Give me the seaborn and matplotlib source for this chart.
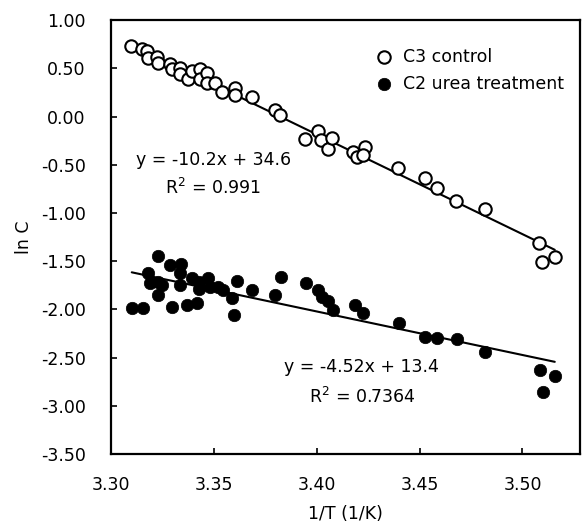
import numpy as np
import pandas as pd
import matplotlib
matplotlib.use('Agg')
import matplotlib.pyplot as plt
import seaborn as sns

# C3 control (open circles)
c3_x = [3.3097, 3.3151, 3.3175, 3.3180, 3.3224, 3.3228, 3.3287, 3.3296, 3.3335, 3.3335,
        3.3374, 3.3394, 3.3432, 3.3432, 3.3466, 3.3466, 3.3505, 3.3539, 3.3603, 3.3603,
        3.3685, 3.3797, 3.3821, 3.3943, 3.4006, 3.4020, 3.4054, 3.4074, 3.4176, 3.4195,
        3.4234, 3.4224, 3.4395, 3.4526, 3.4584, 3.4676, 3.4817, 3.5080, 3.5094, 3.5157]
c3_y = [0.728, 0.696, 0.676, 0.603, 0.613, 0.561, 0.541, 0.489, 0.509, 0.437,
        0.385, 0.468, 0.489, 0.385, 0.457, 0.353, 0.353, 0.260, 0.301, 0.229,
        0.208, 0.073, 0.021, -0.229, -0.146, -0.239, -0.333, -0.218, -0.364, -0.416,
        -0.312, -0.395, -0.530, -0.634, -0.738, -0.873, -0.956, -1.310, -1.507, -1.455]

# C2 urea treatment (filled circles)
c2_x = [3.3102, 3.3155, 3.3180, 3.3228, 3.3190, 3.3228, 3.3248, 3.3228, 3.3287, 3.3340,
        3.3335, 3.3335, 3.3296, 3.3394, 3.3428, 3.3428, 3.3369, 3.3418, 3.3471, 3.3481,
        3.3520, 3.3544, 3.3612, 3.3588, 3.3598, 3.3685, 3.3797, 3.3826, 3.3948, 3.4006,
        3.4025, 3.4054, 3.4079, 3.4186, 3.4224, 3.4399, 3.4526, 3.4584, 3.4681, 3.4817,
        3.5085, 3.5157, 3.5099]
c2_y = [-1.985, -1.985, -1.622, -1.445, -1.726, -1.715, -1.746, -1.850, -1.538, -1.528,
        -1.622, -1.746, -1.975, -1.674, -1.715, -1.788, -1.954, -1.933, -1.674, -1.767,
        -1.767, -1.798, -1.705, -1.882, -2.058, -1.798, -1.850, -1.663, -1.726, -1.798,
        -1.871, -1.913, -2.006, -1.954, -2.037, -2.141, -2.287, -2.297, -2.308, -2.443,
        -2.630, -2.692, -2.859]

xticks = [3.30, 3.35, 3.40, 3.45, 3.50]
yticks = [1.0, 0.5, 0.0, -0.5, -1.0, -1.5, -2.0, -2.5, -3.0, -3.5]

sns.set_style('ticks')
plt.rcParams['font.family'] = ['DejaVu Sans']
plt.rcParams['font.size'] = 12.5
for key in ['text.color', 'axes.labelcolor', 'xtick.color', 'ytick.color', 'axes.edgecolor']:
    plt.rcParams[key] = 'black'

c3 = pd.DataFrame({'x': c3_x, 'y': c3_y})
c2 = pd.DataFrame({'x': c2_x, 'y': c2_y})

fig = plt.figure(figsize=(5.83, 5.31), dpi=100)
ax = fig.add_axes([0.190, 0.145, 0.805, 0.817])

sns.scatterplot(data=c3, x='x', y='y', ax=ax, marker='o', s=80,
                facecolor='white', edgecolor='black', linewidth=1.5,
                label='C3 control', zorder=3)
sns.scatterplot(data=c2, x='x', y='y', ax=ax, marker='o', s=80,
                color='black', edgecolor='black', linewidth=0.5,
                label='C2 urea treatment', zorder=3)
sns.regplot(data=c3, x='x', y='y', ax=ax, scatter=False, ci=None,
            line_kws={'color': 'black', 'linewidth': 1.5, 'zorder': 2})
sns.regplot(data=c2, x='x', y='y', ax=ax, scatter=False, ci=None,
            line_kws={'color': 'black', 'linewidth': 1.5, 'zorder': 2})

ax.text(3.3497, -0.45, 'y = -10.2x + 34.6', ha='center', va='center')
ax.text(3.3497, -0.74, 'R$^2$ = 0.991', ha='center', va='center')
ax.text(3.4220, -2.60, 'y = -4.52x + 13.4', ha='center', va='center')
ax.text(3.4220, -2.91, 'R$^2$ = 0.7364', ha='center', va='center')

ax.set_xlim(3.30, 3.528)
ax.set_ylim(-3.5, 1.0)
ax.set_xticks(xticks)
ax.set_xticklabels(['%.2f' % v for v in xticks])
ax.set_yticks(yticks)
ax.set_yticklabels(['%.2f' % v for v in yticks])
ax.tick_params(direction='in', length=4, width=1.2, labelsize=12.5)
ax.tick_params(axis='y', pad=18)
ax.tick_params(axis='x', pad=16)
for sp in ax.spines.values():
    sp.set_linewidth(1.6)
    sp.set_visible(True)

ax.set_xlabel('1/T (1/K)', labelpad=8)
ax.set_ylabel('ln C', labelpad=6)

leg = ax.legend(loc='upper right', frameon=False,
                handletextpad=0.1, borderaxespad=0.5, labelspacing=0.5,
                bbox_to_anchor=(1.0, 0.972))

fig.savefig('out.png', dpi=100)
